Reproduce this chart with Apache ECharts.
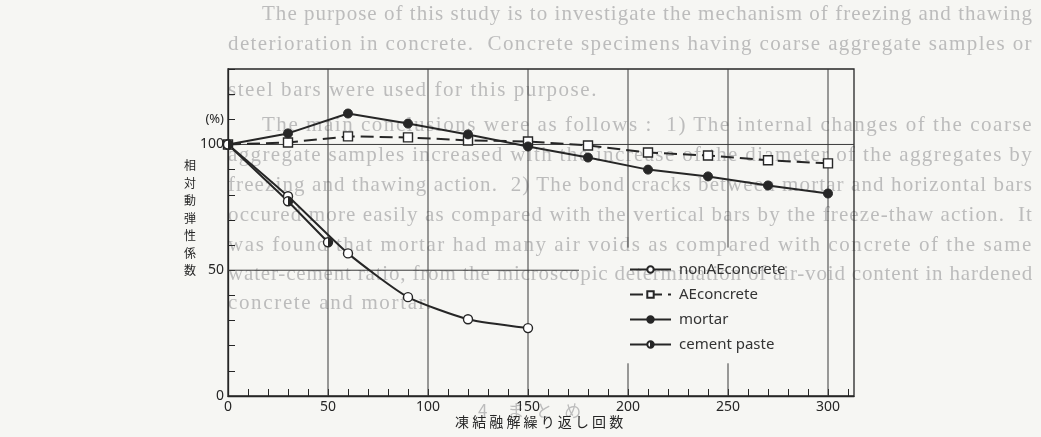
<!DOCTYPE html>
<html>
<head>
<meta charset="utf-8">
<script src="https://cdn.jsdelivr.net/npm/echarts@6/dist/echarts.min.js"></script>
<style>
  html, body { margin: 0; padding: 0; background: #f6f6f3; }
  #page { position: relative; width: 1041px; height: 437px; overflow: hidden; }
  #bleed { position: absolute; left: 0; top: 0; width: 1041px; height: 437px;
           font-family: "Liberation Serif", serif; font-size: 21px; color: #bcbcbc;
           filter: blur(0.5px); }
  #bleed span { position: absolute; white-space: pre; line-height: 22px; }
  #chart { position: absolute; left: 0; top: 0; width: 1041px; height: 437px; }
</style>
</head>
<body>
<div id="page">
  <div id="bleed"></div>
  <div id="chart"></div>
</div>
<script>
// Relative dynamic modulus of elasticity (%) against freeze-thaw cycles
const CYCLES_MORTAR = [0, 30, 60, 90, 120, 150, 180, 210, 240, 270, 300];
const MORTAR        = [100, 104.4, 112.3, 108.3, 104, 99.2, 94.8, 90, 87.3, 83.7, 80.5];

const CYCLES_AE     = [0, 30, 60, 90, 120, 150, 180, 210, 240, 270, 300];
const AE_CONCRETE   = [100, 100.8, 103.2, 102.8, 101.6, 101.2, 99.6, 96.8, 95.6, 93.7, 92.5];

const CYCLES_NONAE  = [0, 30, 60, 90, 120, 150];
const NONAE_CONCRETE = [100, 79.4, 56.7, 39.3, 30.5, 27];

const CYCLES_PASTE  = [0, 30, 50];
const CEMENT_PASTE  = [100, 77.4, 61.1];

const SERIES_NAMES = ['nonAEconcrete', 'AEconcrete', 'mortar', 'cement paste'];
const X_LABELS = [0, 50, 100, 150, 200, 250, 300];
const Y_LABELS = [0, 50, 100];
const Y_UNIT_AT = 110;

// Reference lines inside the frame: [x1, y1, x2, y2] in data units
const GUIDES = [
  [50, 0, 50, 130], [100, 0, 100, 130], [150, 0, 150, 130], [300, 0, 300, 130],
  [200, 0, 200, 13], [200, 59, 200, 130], [250, 0, 250, 13], [250, 59, 250, 130],
  [0, 100, 313, 100], [0, 50, 175.5, 50]
];

// Faint text printed on the other side of the sheet
const BLEED_TEXT = [
  'The purpose of this study is to investigate the mechanism of freezing and thawing',
  'deterioration in concrete.  Concrete specimens having coarse aggregate samples or',
  'steel bars were used for this purpose.',
  'The main conclusions were as follows :  1) The internal changes of the coarse',
  'aggregate samples increased with the increase of the diameter of the aggregates by',
  'freezing and thawing action.  2) The bond cracks between mortar and horizontal bars',
  'occured more easily as compared with the vertical bars by the freeze-thaw action.  It',
  'was found that mortar had many air voids as compared with concrete of the same',
  'water-cement ratio, from the microscopic determination of air-void content in hardened',
  'concrete and mortar.',
  '4. ま と め'
];
// left, vertical centre, right edge for each bleed line
const BLEED_BOX = [
  [262, 13, 1033], [228, 43, 1033], [228, 89, 598], [262, 124, 1033],
  [228, 154, 1033], [228, 184, 1033], [228, 214, 1033], [228, 244, 1033],
  [228, 273, 1033], [228, 302, 433], [478, 410, 585]
];

const bleed = document.getElementById('bleed');
BLEED_TEXT.forEach((t, i) => {
  const s = document.createElement('span');
  s.textContent = t;
  const [l, cy, r] = BLEED_BOX[i];
  s.style.left = l + 'px';
  s.style.top = (cy - 11) + 'px';
  if (/[ぁ-ん]/.test(t)) { s.style.fontFamily = '"Noto Sans CJK JP", sans-serif'; s.style.fontSize = '17px'; }
  bleed.appendChild(s);
  const w = s.getBoundingClientRect().width;
  s.style.letterSpacing = ((r - l - w) / t.length) + 'px';
});

const ink = '#262626';
const pair = (xs, ys) => xs.map((x, i) => [x, ys[i]]);

const chart = echarts.init(document.getElementById('chart'), null, { renderer: 'canvas' });

const option = {
  animation: false,
  backgroundColor: 'transparent',
  grid: {
    left: 228, right: 187, top: 69, bottom: 41,
    show: true, borderColor: ink, borderWidth: 1.3, backgroundColor: 'transparent'
  },
  legend: {
    orient: 'vertical',
    left: 624, top: 257,
    itemWidth: 41, itemHeight: 8, itemGap: 10,
    data: SERIES_NAMES,
    selectedMode: false,
    textStyle: { fontFamily: 'Noto Sans', fontSize: 15, color: '#333333', lineHeight: 15, padding: [0, 0, 0, 3] }
  },
  xAxis: {
    type: 'value', min: 0, max: 313, interval: 10,
    axisLine: { show: true, lineStyle: { color: ink, width: 1.3 } },
    axisTick: { show: true, inside: true, length: 7, lineStyle: { color: ink, width: 1 } },
    splitLine: { show: false },
    axisLabel: {
      margin: 4, fontFamily: 'Noto Sans', fontSize: 14, color: ink,
      showMaxLabel: false,
      formatter: v => X_LABELS.includes(v) ? String(v) : ''
    }
  },
  yAxis: {
    type: 'value', min: 0, max: 130, interval: 10,
    axisLine: { show: true, lineStyle: { color: ink, width: 1.3 } },
    axisTick: { show: true, inside: true, length: 7, lineStyle: { color: ink, width: 1 } },
    splitLine: { show: false },
    axisLabel: {
      margin: 4, fontFamily: 'Noto Sans', fontSize: 14, color: ink,
      formatter: v => v === Y_UNIT_AT ? '{u|(%)}' : (Y_LABELS.includes(v) ? String(v) : ''),
      rich: { u: { fontFamily: 'Noto Sans', fontSize: 13, color: ink } }
    }
  },
  graphic: [
    {
      type: 'text', left: 184, top: 157, silent: true,
      style: {
        text: '相\n対\n動\n弾\n性\n係\n数',
        fontFamily: 'Noto Sans CJK JP', fontSize: 12, lineHeight: 17.5,
        fill: ink, align: 'center'
      }
    },
    {
      type: 'text', left: 455, top: 415, silent: true,
      style: {
        text: '凍 結 融 解 繰 り 返 し 回 数',
        fontFamily: 'Noto Sans CJK JP', fontSize: 14, fill: ink
      }
    }
  ],
  series: [
    {
      name: 'guides', type: 'custom', silent: true, z: 1,
      data: GUIDES,
      renderItem: (params, api) => {
        const a = api.coord([api.value(0), api.value(1)]);
        const b = api.coord([api.value(2), api.value(3)]);
        return {
          type: 'line',
          shape: { x1: a[0], y1: a[1], x2: b[0], y2: b[1] },
          style: { stroke: '#3a3a3a', lineWidth: 1 }
        };
      }
    },
    {
      name: 'nonAEconcrete', type: 'line', z: 3,
      data: pair(CYCLES_NONAE, NONAE_CONCRETE),
      smooth: 0.2,
      symbol: 'circle', symbolSize: 9,
      lineStyle: { color: ink, width: 2 },
      itemStyle: { color: '#ffffff', borderColor: ink, borderWidth: 1.4 }
    },
    {
      name: 'AEconcrete', type: 'line', z: 3,
      data: pair(CYCLES_AE, AE_CONCRETE),
      symbol: 'rect', symbolSize: 9,
      lineStyle: { color: ink, width: 2, type: [13, 6] },
      itemStyle: { color: '#ffffff', borderColor: ink, borderWidth: 1.4 }
    },
    {
      name: 'mortar', type: 'line', z: 3,
      data: pair(CYCLES_MORTAR, MORTAR),
      symbol: 'circle', symbolSize: 9,
      lineStyle: { color: ink, width: 2 },
      itemStyle: { color: ink, borderColor: ink, borderWidth: 1 }
    },
    {
      name: 'cement paste', type: 'line', z: 3,
      data: pair(CYCLES_PASTE, CEMENT_PASTE),
      symbol: 'circle', symbolSize: 9,
      lineStyle: { color: ink, width: 2 },
      itemStyle: {
        color: new echarts.graphic.LinearGradient(0, 0, 1, 0, [
          { offset: 0, color: '#ffffff' }, { offset: 0.5, color: '#ffffff' },
          { offset: 0.5, color: ink }, { offset: 1, color: ink }
        ]),
        borderColor: ink, borderWidth: 1.4
      }
    }
  ]
};

chart.setOption(option);
</script>
</body>
</html>
